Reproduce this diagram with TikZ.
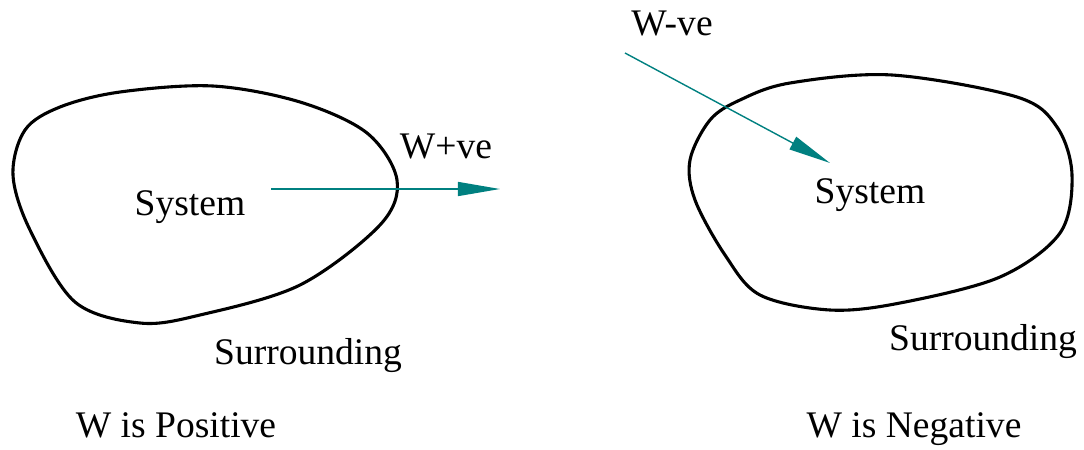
\documentclass[tikz,border=0pt]{standalone}
\usepackage{fontspec}
\setmainfont{Liberation Serif}
\usetikzlibrary{arrows.meta}
\definecolor{workteal}{RGB}{0,128,128}
\begin{document}
\begin{tikzpicture}[x=0.025cm,y=-0.025cm,
  lbl/.style={anchor=base,inner sep=0pt,font=\fontsize{26.7}{30}\selectfont},
  boundary/.style={line width=2.2pt,line join=round},
  work/.style={workteal,line width=1pt,-{Triangle[length=30pt,width=10pt]}}]
\useasboundingbox (0,0) rectangle (1084,449);

% system boundaries
\draw[boundary] plot[smooth cycle,tension=0.55] coordinates {(120,92) (213,86) (300,102) (367,133) (397,180) (380,225) (300,285) (200,315) (140,323) (75,302) (30,230) (13,175) (25,130) (60,107)};
\draw[boundary] plot[smooth cycle,tension=0.55] coordinates {(790,83) (892,75) (1017,97) (1057,127) (1072,175) (1060,233) (1000,277) (900,303) (830,310) (760,295) (725,255) (695,200) (690,160) (710,120) (740,100)};

% labels
\node[lbl] (sysL) at (190,215) {System};
\node[lbl] (wpos) at (446,158) {W+ve};
\node[lbl] (surL) at (308,364) {Surrounding};
\node[lbl] (capL) at (176,437) {W is Positive};

\node[lbl] (sysR) at (870,203) {System};
\node[lbl] (wneg) at (672,35) {W-ve};
\node[lbl] (surR) at (983,350) {Surrounding};
\node[lbl] (capR) at (914,437) {W is Negative};

% work arrows
\coordinate (outA) at (271,189);
\coordinate (outB) at (500,189);
\draw[work] (outA) -- (outB);

\coordinate (inA) at (625,53);
\coordinate (inB) at (830,163);
\draw[work] (inA) -- (inB);
\end{tikzpicture}
\end{document}
